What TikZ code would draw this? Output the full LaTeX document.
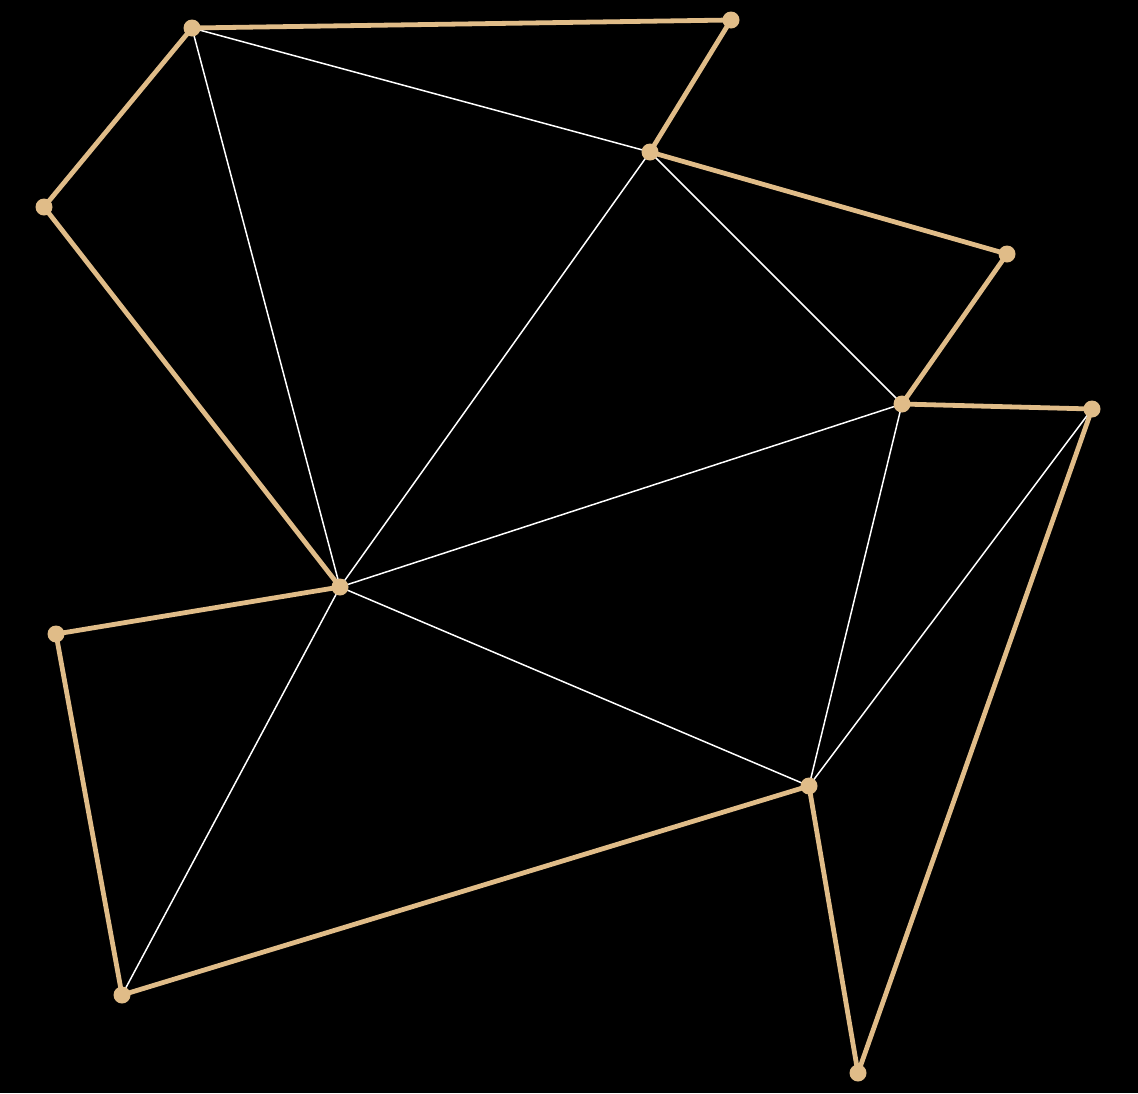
\documentclass[tikz,border=0pt]{standalone}
\definecolor{tan}{RGB}{224,188,136}
\begin{document}
\begin{tikzpicture}[x=1pt,y=-1pt,
  dot/.style={circle,fill=tan,inner sep=0pt,minimum size=17pt},
  thick edge/.style={draw=tan,line width=4.8pt},
  thin edge/.style={draw=white,line width=1.5pt}]
\fill[black] (0,0) rectangle (1138,1093);
\useasboundingbox (0,0) rectangle (1138,1093);
\coordinate (A) at (192,28);
\coordinate (B) at (731,20);
\coordinate (C) at (650,152);
\coordinate (D) at (44,207);
\coordinate (E) at (1007,254);
\coordinate (F) at (902,404);
\coordinate (G) at (1092,409);
\coordinate (H) at (340,587);
\coordinate (I) at (56,634);
\coordinate (J) at (809,786);
\coordinate (K) at (122,995);
\coordinate (L) at (858,1073);
\foreach \u/\v in {A/C,A/H,C/H,C/F,H/F,H/J,H/K,F/J,G/J}
  \draw[thin edge] (\u) -- (\v);
\foreach \u/\v in {A/B,B/C,A/D,D/H,C/E,E/F,F/G,H/I,I/K,K/J,J/L,L/G}
  \draw[thick edge] (\u) -- (\v);
\foreach \n in {A,B,C,D,E,F,G,H,I,J,K,L}
  \node[dot] (n\n) at (\n) {};
\end{tikzpicture}
\end{document}
